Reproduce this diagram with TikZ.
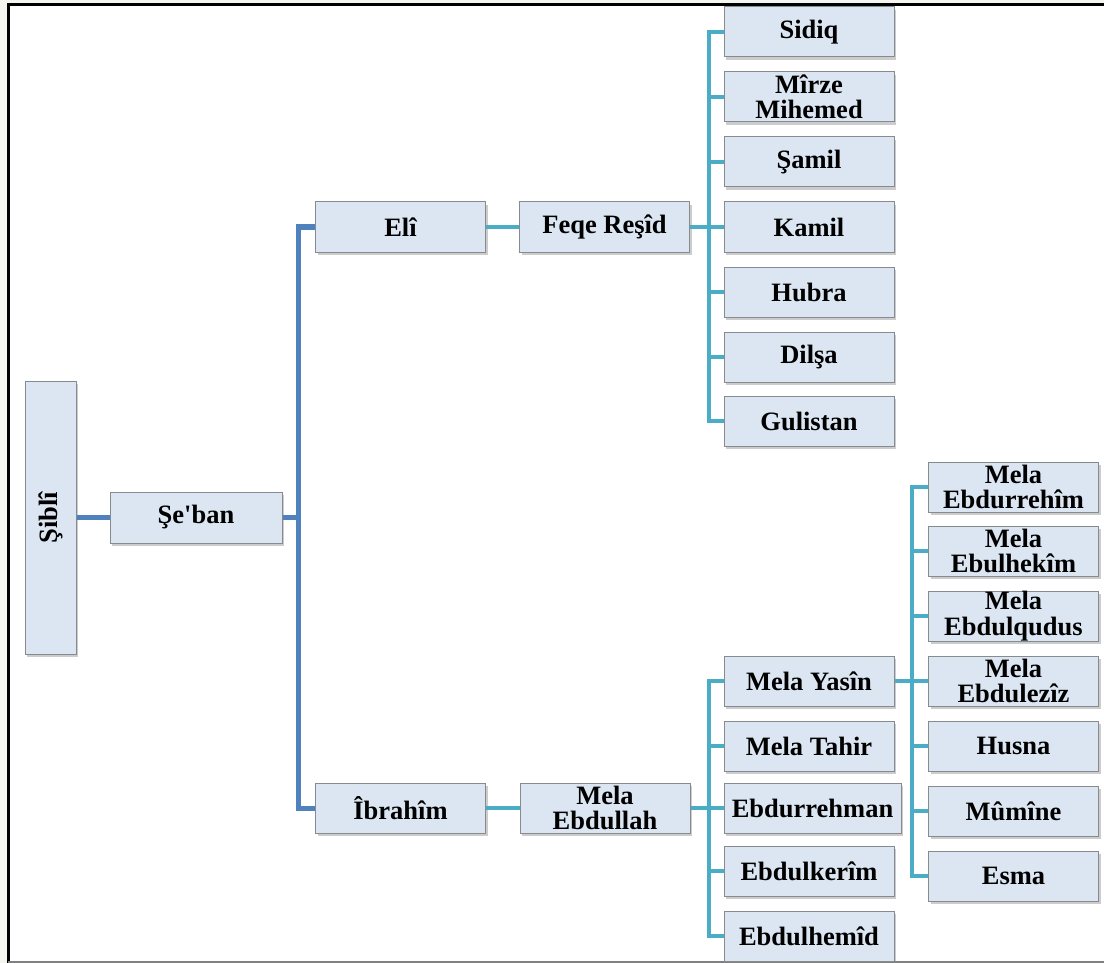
\documentclass[tikz,border=0pt]{standalone}
\usepackage{fontspec}
\setmainfont{Liberation Serif}
\usepackage{tikz}
\usepackage{xcolor}
\usetikzlibrary{shadows}

\definecolor{boxfill}{RGB}{220,230,242}
\definecolor{boxline}{RGB}{135,138,142}
\definecolor{trunkblue}{RGB}{79,129,189}
\definecolor{branchcyan}{RGB}{75,172,198}
\definecolor{pageback}{RGB}{245,245,240}

\begin{document}
\begin{tikzpicture}[x=1pt,y=-1pt]
			\tikzset{person/.style={draw=boxline,line width=1pt,fill=boxfill,inner sep=0pt,
				minimum width=170pt,minimum height=50pt,align=center,
				font=\fontsize{26.5}{25.5}\selectfont\bfseries,
				drop shadow={opacity=0.4,shadow xshift=2pt,shadow yshift=-3pt}},
				blueline/.style={draw=trunkblue,line width=5pt},
				cyanline/.style={draw=branchcyan,line width=4pt}}
			\useasboundingbox (0,0) rectangle (1104,963);
			\fill [pageback] (0,0) rectangle (1104,963);
			\fill [white] (8,5) rectangle (1104,962);
			\draw [black,line width=3pt] (8,963) -- (8,5) -- (1104,5);
			\draw [gray,line width=2pt] (8,962) -- (1104,962);
			
			% root and second generation
			\node [person,rotate=90,minimum width=273pt,minimum height=51pt] (sibli) at (50.5,517.5) {Şiblî};
			\node [person,minimum width=172pt,minimum height=51pt] (seban) at (196,517.5) {Şe\textquotesingle ban};
			\coordinate (sebanfork) at (298,517.5);
			\draw [blueline] (sibli.south) -- (seban.west);
			\draw [blueline] (seban.east) -- (sebanfork);
			
			% Eli branch
			\node [person] (eli) at (400.5,227) {Elî};
			\node [person] (feqe) at (604.5,227) {Feqe Reşîd};
			\draw [blueline] (eli.west) -| (sebanfork);
			\draw [cyanline] (eli.east) -- (feqe.west);
			\coordinate (feqefork) at (709,227);
			\draw [cyanline] (feqe.east) -- (feqefork);
			
			\node [person] (sidiq) at (809,32) {Sidiq};
			\node [person] (mirze) at (809,97) {Mîrze\\Mihemed};
			\node [person] (samil) at (809,162) {Şamil};
			\node [person] (kamil) at (809,227) {Kamil};
			\node [person] (hubra) at (809,292) {Hubra};
			\node [person] (dilsa) at (809,357) {Dilşa};
			\node [person] (gulistan) at (809,421) {Gulistan};
			\draw [cyanline] (sidiq.west) -| (feqefork);
			\draw [cyanline] (mirze.west) -| (feqefork);
			\draw [cyanline] (samil.west) -| (feqefork);
			\draw [cyanline] (kamil.west) -- (feqefork);
			\draw [cyanline] (hubra.west) -| (feqefork);
			\draw [cyanline] (dilsa.west) -| (feqefork);
			\draw [cyanline] (gulistan.west) -| (feqefork);
			
			% Ibrahim branch
			\node [person] (ibrahim) at (400.5,808) {Îbrahîm};
			\node [person] (ebdullah) at (605,808) {Mela\\Ebdullah};
			\draw [blueline] (ibrahim.west) -| (sebanfork);
			\draw [cyanline] (ibrahim.east) -- (ebdullah.west);
			\coordinate (ebdullahfork) at (709,808);
			\draw [cyanline] (ebdullah.east) -- (ebdullahfork);
			
			\node [person] (yasin) at (809,681) {Mela Yasîn};
			\node [person] (tahir) at (809,746) {Mela Tahir};
			\node [person,minimum width=177pt] (ebdurrehman) at (812.5,808) {Ebdurrehman};
			\node [person] (ebdulkerim) at (809,871) {Ebdulkerîm};
			\node [person] (ebdulhemid) at (809,936) {Ebdulhemîd};
			\draw [cyanline] (yasin.west) -| (ebdullahfork);
			\draw [cyanline] (tahir.west) -| (ebdullahfork);
			\draw [cyanline] (ebdurrehman.west) -- (ebdullahfork);
			\draw [cyanline] (ebdulkerim.west) -| (ebdullahfork);
			\draw [cyanline] (ebdulhemid.west) -| (ebdullahfork);
			
			% children of Mela Yasin
			\coordinate (yasinfork) at (912,681);
			\draw [cyanline] (yasin.east) -- (yasinfork);
			\node [person] (ebdurrehim) at (1013.5,487) {Mela\\Ebdurrehîm};
			\node [person] (ebulhekim) at (1013.5,551) {Mela\\Ebulhekîm};
			\node [person] (ebdulqudus) at (1013.5,616) {Mela\\Ebdulqudus};
			\node [person] (ebdulezir) at (1013.5,681) {Mela\\Ebdulezîz};
			\node [person] (husna) at (1013.5,746) {Husna};
			\node [person] (mumine) at (1013.5,811) {Mûmîne};
			\node [person] (esma) at (1013.5,876) {Esma};
			\draw [cyanline] (ebdurrehim.west) -| (yasinfork);
			\draw [cyanline] (ebulhekim.west) -| (yasinfork);
			\draw [cyanline] (ebdulqudus.west) -| (yasinfork);
			\draw [cyanline] (ebdulezir.west) -- (yasinfork);
			\draw [cyanline] (husna.west) -| (yasinfork);
			\draw [cyanline] (mumine.west) -| (yasinfork);
			\draw [cyanline] (esma.west) -| (yasinfork);
		\end{tikzpicture}
\end{document}
